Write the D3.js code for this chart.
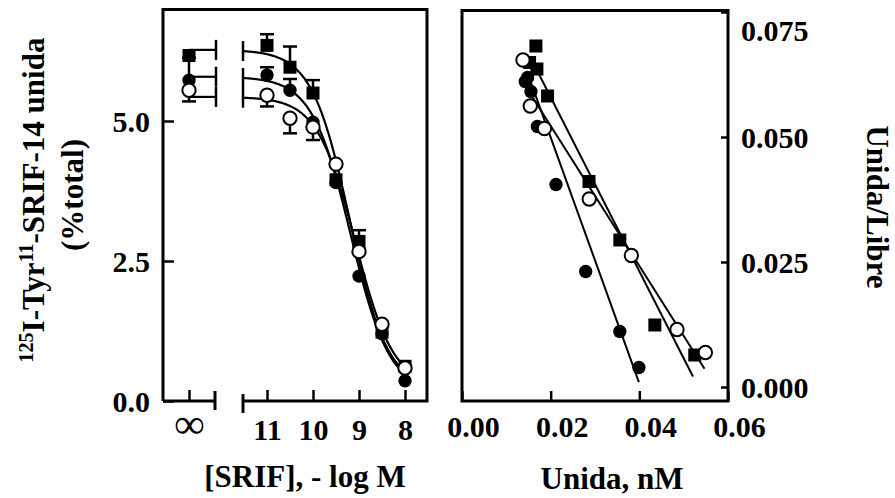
<!DOCTYPE html>
<html>
<head>
<meta charset="utf-8">
<script src="https://cdn.jsdelivr.net/npm/d3@7"></script>
<style>
body { margin: 0; background: #fff; }
text { font-family: "Liberation Serif", "Times New Roman", serif; font-weight: bold; fill: #000; }
</style>
</head>
<body>
<svg id="chart" width="895" height="498"></svg>
<script>
// ---- left panel: displacement by SRIF (-log M) ----
var logConc = [11, 10.5, 10, 9.5, 9, 8.5, 8];
var infBound = [6.17, 5.73, 5.55];          // "∞" (no SRIF) point, square / filled / open
var infErr = [0, 0.4, 0.2];
var squareBound = [6.35, 5.96, 5.50, 3.95, 2.85, 1.23, 0.62];
var squareErr = [0.2, 0.37, 0.23, 0, 0.2, 0, 0];
var filledBound = [5.82, 5.55, 4.98, 3.90, 2.23, 1.20, 0.36];
var filledErr = [0.14, 0.2, 0, 0, 0, 0, 0];
var openBound = [5.46, 5.05, 4.89, 4.23, 2.67, 1.37, 0.59];
var openErr = [0.2, 0.27, 0.23, 0, 0, 0, 0];
// fitted sigmoid parameters
var fitTop = [6.27, 5.79, 5.43];
var fitBottom = [0.2, 0.15, 0.25];
var fitPIC50 = [9.2, 9.18, 9.08];
var fitHill = [1.05, 1.03, 1.05];
var leftYTicks = [0, 2.5, 5];
var leftXTicks = [11, 10, 9, 8];

// ---- right panel: Scatchard ----
var squareB = [0.01667, 0.01524, 0.0169, 0.0193, 0.02865, 0.0356, 0.0435, 0.0525];
var squareBF = [0.0682, 0.0649, 0.0636, 0.0582, 0.0411, 0.0294, 0.0124, 0.0064];
var filledB = [0.01427, 0.0148, 0.01555, 0.017, 0.0212, 0.0279, 0.0356, 0.0399];
var filledBF = [0.0611, 0.0619, 0.0591, 0.0521, 0.0405, 0.0231, 0.0111, 0.0039];
var openB = [0.01375, 0.0154, 0.0186, 0.0287, 0.0382, 0.0485, 0.0549];
var openBF = [0.0654, 0.0562, 0.0517, 0.0376, 0.0263, 0.0115, 0.0069];
// regression lines: B/F = slope * (Bmax - B), drawn from lineFrom to lineTo
var lineSlope = [1.74, 2.46, 1.40];
var lineBmax = [0.0533, 0.0403, 0.0573];
var lineFrom = [0.0169, 0.0150, 0.0152];
var lineTo = [0.0521, 0.0399, 0.0547];
var rightXTicks = [0, 0.02, 0.04, 0.06];
var rightYTicks = [0, 0.025, 0.05, 0.075];

var svg = d3.select("#chart");

var yL = d3.scaleLinear().domain([0, 7]).range([401, 9]);
var xL = d3.scaleLinear().domain([11, 8]).range([267, 405]);
var xInf = d3.scalePoint().domain(["∞"]).range([163, 215]).padding(0.5);

var xR = d3.scaleLinear().domain([0, 0.06]).range([462, 728]);
var yR = d3.scaleLinear().domain([0, 0.075]).range([387, 12]);

var symSquare = d3.symbol().type(d3.symbolSquare).size(169);
var symCircle = d3.symbol().type(d3.symbolCircle).size(140);

function marker(g, kind, x, y) {
  g.append("path")
    .attr("d", kind == "square" ? symSquare() : symCircle())
    .attr("transform", "translate(" + x + "," + y + ")")
    .attr("fill", kind == "open" ? "#fff" : "#000")
    .attr("stroke", "#000")
    .attr("stroke-width", kind == "open" ? 2 : 0);
}

function errBar(g, x, y1, y2) {
  g.append("line").attr("x1", x).attr("x2", x).attr("y1", y1).attr("y2", y2)
    .attr("stroke", "#000").attr("stroke-width", 2.5);
  g.append("line").attr("x1", x - 7).attr("x2", x + 7).attr("y1", y2).attr("y2", y2)
    .attr("stroke", "#000").attr("stroke-width", 2.5);
}

// ================= left panel =================
var left = svg.append("g");

// frame with broken bottom axis
left.append("path")
  .attr("d", "M163,401 L163,9.5 L427,9.5 L427,401 L243,401 M215,401 L163,401")
  .attr("fill", "none").attr("stroke", "#000").attr("stroke-width", 3);
left.append("line").attr("x1", 215).attr("x2", 215).attr("y1", 391).attr("y2", 410)
  .attr("stroke", "#000").attr("stroke-width", 3);
left.append("line").attr("x1", 243).attr("x2", 243).attr("y1", 394).attr("y2", 413)
  .attr("stroke", "#000").attr("stroke-width", 3);

var yAxisL = left.append("g").attr("transform", "translate(163,0)")
  .call(d3.axisLeft(yL).tickValues(leftYTicks).tickFormat(d3.format(".1f")).tickSize(-11).tickPadding(13));
yAxisL.select(".domain").remove();
yAxisL.selectAll("line").attr("stroke-width", 2.5);
yAxisL.selectAll("text").attr("font-size", 30).attr("font-family", null).attr("dy", "0.36em");

var xAxisL = left.append("g").attr("transform", "translate(0,401)")
  .call(d3.axisBottom(xL).tickValues(leftXTicks).tickFormat(d3.format("d")).tickSize(-11).tickPadding(18));
xAxisL.select(".domain").remove();
xAxisL.selectAll("line").attr("stroke-width", 2.5);
xAxisL.selectAll("text").attr("font-size", 30).attr("font-family", null);

var xAxisInf = left.append("g").attr("transform", "translate(0,401)")
  .call(d3.axisBottom(xInf).tickSize(-11).tickPadding(18));
xAxisInf.select(".domain").remove();
xAxisInf.selectAll("line").attr("stroke-width", 2.5);
xAxisInf.selectAll("text").attr("font-size", 42).attr("font-family", "DejaVu Serif").attr("font-weight", "bold").attr("dy", "0.45em");

var kinds = ["square", "filled", "open"];
var boundSets = [squareBound, filledBound, openBound];
var errSets = [squareErr, filledErr, openErr];
var errDir = [1, 1, -1];

function sigmoid(i, p) {
  return fitBottom[i] + (fitTop[i] - fitBottom[i]) / (1 + Math.pow(10, (fitPIC50[i] - p) * fitHill[i]));
}

var line = d3.line().x(function (d) { return xL(d[0]); }).y(function (d) { return yL(d[1]); })
  .curve(d3.curveBasis);
var pGrid = d3.range(11.54, 7.99, -0.02);

kinds.forEach(function (k, i) {
  // plateau segment at ∞ with break caps
  var xi = xInf("∞");
  left.append("line").attr("x1", xi).attr("x2", 215).attr("y1", yL(fitTop[i])).attr("y2", yL(fitTop[i]))
    .attr("stroke", "#000").attr("stroke-width", 2.2);
  left.append("line").attr("x1", 216).attr("x2", 216).attr("y1", yL(fitTop[i]) - 10).attr("y2", yL(fitTop[i]) + 10)
    .attr("stroke", "#000").attr("stroke-width", 2.5);
  var y0 = yL(sigmoid(i, 11.54));
  left.append("line").attr("x1", 243).attr("x2", 243).attr("y1", y0 - 10).attr("y2", y0 + 10)
    .attr("stroke", "#000").attr("stroke-width", 2.5);
  left.append("path")
    .attr("d", line(pGrid.map(function (p) { return [p, sigmoid(i, p)]; })))
    .attr("fill", "none").attr("stroke", "#000").attr("stroke-width", 2.2);
});

kinds.forEach(function (k, i) {
  var xi = xInf("∞");
  if (infErr[i] > 0) errBar(left, xi, yL(infBound[i]), yL(infBound[i] + errDir[i] * infErr[i]));
  boundSets[i].forEach(function (v, j) {
    if (errSets[i][j] > 0) errBar(left, xL(logConc[j]), yL(v), yL(v + errDir[i] * errSets[i][j]));
  });
});

kinds.forEach(function (k, i) {
  marker(left, k, xInf("∞"), yL(infBound[i]));
  boundSets[i].forEach(function (v, j) {
    marker(left, k, xL(logConc[j]), yL(v));
  });
});

// left titles
left.append("text").attr("x", 305).attr("y", 487).attr("text-anchor", "middle")
  .attr("font-size", 31).text("[SRIF], - log M");

var yt = left.append("text").attr("transform", "translate(44,200) rotate(-90)")
  .attr("text-anchor", "middle").attr("font-size", 31);
yt.append("tspan").attr("font-size", 20).attr("dy", -11).text("125");
yt.append("tspan").attr("dy", 11).text("I-Tyr");
yt.append("tspan").attr("font-size", 20).attr("dy", -11).text("11");
yt.append("tspan").attr("dy", 11).text("-SRIF-14 unida");

left.append("text").attr("transform", "translate(83,195) rotate(-90)")
  .attr("text-anchor", "middle").attr("font-size", 31).text("(%total)");

// ================= right panel =================
var right = svg.append("g");

right.append("rect").attr("x", 462).attr("y", 10.5).attr("width", 266).attr("height", 390.5)
  .attr("fill", "none").attr("stroke", "#000").attr("stroke-width", 3);

var xAxisR = right.append("g").attr("transform", "translate(0,401)")
  .call(d3.axisBottom(xR).tickValues(rightXTicks).tickFormat(d3.format(".2f")).tickSize(-10).tickPadding(15));
xAxisR.select(".domain").remove();
xAxisR.selectAll("line").attr("stroke-width", 2.5);
xAxisR.selectAll("text").attr("font-size", 30).attr("font-family", null).attr("dx", 11);

var yAxisR = right.append("g").attr("transform", "translate(728,0)")
  .call(d3.axisRight(yR).tickValues(rightYTicks).tickFormat(d3.format(".3f")).tickSize(-7).tickPadding(13));
yAxisR.select(".domain").remove();
yAxisR.selectAll("line").attr("stroke-width", 2.5);
yAxisR.selectAll("text").attr("font-size", 30).attr("font-family", null)
  .attr("dy", function (d) { return (Math.max(yR(d), 30) - yR(d) + 4) + "px"; })
  .attr("dominant-baseline", "middle");

var bSets = [squareB, filledB, openB];
var bfSets = [squareBF, filledBF, openBF];

kinds.forEach(function (k, i) {
  right.append("line")
    .attr("x1", xR(lineFrom[i])).attr("y1", yR(lineSlope[i] * (lineBmax[i] - lineFrom[i])))
    .attr("x2", xR(lineTo[i])).attr("y2", yR(lineSlope[i] * (lineBmax[i] - lineTo[i])))
    .attr("stroke", "#000").attr("stroke-width", 2);
});

kinds.forEach(function (k, i) {
  bSets[i].forEach(function (b, j) {
    marker(right, k, xR(b), yR(bfSets[i][j]));
  });
});

right.append("text").attr("x", 612).attr("y", 489).attr("text-anchor", "middle")
  .attr("font-size", 31).text("Unida, nM");

right.append("text").attr("transform", "translate(867,207) rotate(90)")
  .attr("text-anchor", "middle").attr("font-size", 31).text("Unida/Libre");
</script>
</body>
</html>
